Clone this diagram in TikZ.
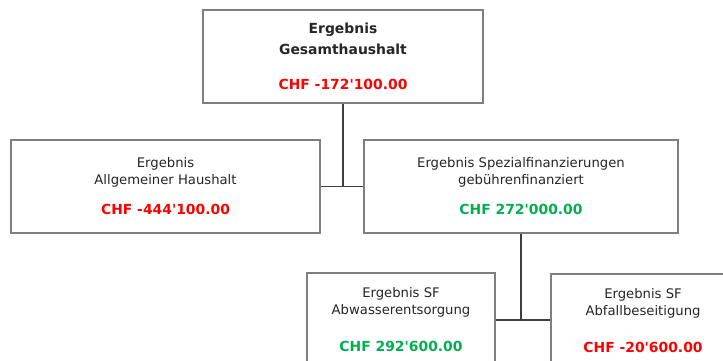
\documentclass[tikz,border=0pt]{standalone}
\usepackage{fontspec}
\setmainfont{DejaVu Sans}
\usepackage{tikz}
\usetikzlibrary{positioning,calc}
\definecolor{negred}{HTML}{FF0000}
\definecolor{posgreen}{HTML}{00B050}
\definecolor{boxline}{HTML}{7F7F7F}
\definecolor{connline}{HTML}{3F3F3F}
\newcommand{\betrag}[2]{\textcolor{#1}{\fontsize{13.9}{17}\selectfont\bfseries CHF #2}}
\newcommand{\apo}{\textquotesingle}

\begin{document}
\begin{tikzpicture}[x=1pt,y=-1pt,
    box/.style={draw=boxline, line width=1.3pt, fill=white, align=center, text=black!85,
        font=\fontsize{13.2}{17}\selectfont, inner sep=0pt},
    conn/.style={draw=connline, line width=1.5pt}
]
\useasboundingbox (0,0) rectangle (723,361);
\clip (0,0) rectangle (723,361);

\node[box, minimum width=280pt, minimum height=93pt, font=\fontsize{13.9}{21}\selectfont\bfseries] (gesamt) at (343,56.5)
    {Ergebnis\\Gesamthaushalt\\[14pt]\betrag{negred}{-172\apo 100.00}};
\node[box, minimum width=309pt, minimum height=93pt] (allg) at (165.5,186.5)
    {Ergebnis\\Allgemeiner Haushalt\\[13pt]\betrag{negred}{-444\apo 100.00}};
\node[box, minimum width=314pt, minimum height=93pt] (spez) at (521,186.5)
    {Ergebnis Spezialfinanzierungen\\gebührenfinanziert\\[13pt]\betrag{posgreen}{272\apo 000.00}};
\node[box, minimum width=188pt, minimum height=94pt] (abw) at (401,320)
    {Ergebnis SF\\Abwasserentsorgung\\[20pt]\betrag{posgreen}{292\apo 600.00}};
\node[box, minimum width=184pt, minimum height=94pt] (abf) at (643,321)
    {Ergebnis SF\\Abfallbeseitigung\\[20pt]\betrag{negred}{-20\apo 600.00}};

\draw[conn] (allg.east) -- (spez.west);
\draw[conn] (gesamt.south) -- (gesamt.south |- allg.east);
\draw[conn] (abw.east) -- (abf.west |- abw.east);
\draw[conn] (spez.south) -- (spez.south |- abw.east);
\end{tikzpicture}
\end{document}
